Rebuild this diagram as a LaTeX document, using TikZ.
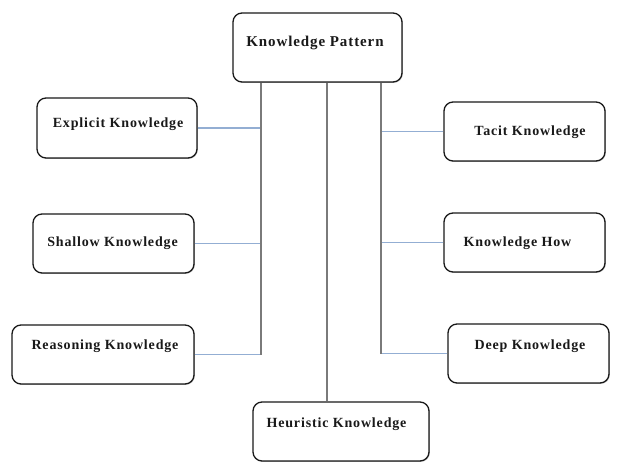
\documentclass[tikz,border=0pt]{standalone}
\usepackage{fontspec}
\setmainfont{Liberation Serif}
\newfontfamily\labfont[LetterSpace=6]{Liberation Serif}
\usetikzlibrary{shadows}
\definecolor{hline}{HTML}{93AED3}
\definecolor{vline}{HTML}{7A7A7A}
\tikzset{
  box/.style={draw=black!90, line width=1.3pt, rounded corners=9pt, fill=white,
    inner sep=0pt, drop shadow={shadow xshift=0.8pt, shadow yshift=-0.8pt, opacity=0.45, fill=black!60}},
  lab/.style={font=\labfont\bfseries\fontsize{14}{16}\selectfont, inner sep=0pt, text=black!90},
  vl/.style={draw=vline, line width=1.4pt},
  hl/.style={draw=hline, line width=1.5pt},
}
\begin{document}
\begin{tikzpicture}[x=1pt,y=-1pt]
\useasboundingbox (0,0) rectangle (630,476);
% boxes
\node[box, minimum width=169pt, minimum height=69pt] (kp) at (317.5,47.5) {};
\node[box, minimum width=160pt, minimum height=60pt] (ek) at (117,128) {};
\node[box, minimum width=161pt, minimum height=59pt] (sk) at (113.5,243.5) {};
\node[box, minimum width=182pt, minimum height=59pt] (rk) at (103,354.5) {};
\node[box, minimum width=176pt, minimum height=59pt] (hk) at (341,431.5) {};
\node[box, minimum width=161pt, minimum height=59pt] (tk) at (524.5,131.5) {};
\node[box, minimum width=161pt, minimum height=59pt] (kh) at (524.5,242.5) {};
\node[box, minimum width=161pt, minimum height=59pt] (dk) at (528.5,353.5) {};
% labels
\node[lab, font=\labfont\bfseries\fontsize{15}{17}\selectfont] (tkp) at (315,43) {Knowledge Pattern};
\node[lab] (tek) at (118,124) {Explicit Knowledge};
\node[lab] (tsk) at (112.5,243) {Shallow Knowledge};
\node[lab] (trk) at (105,346) {Reasoning Knowledge};
\node[lab] (thk) at (336.5,424) {Heuristic Knowledge};
\node[lab] (ttk) at (530,132) {Tacit Knowledge};
\node[lab] (tkh) at (517.5,243) {Knowledge How};
\node[lab] (tdk) at (530,346) {Deep Knowledge};
% junction coordinates
\coordinate (xl) at (261,0);
\coordinate (xm) at (327,0);
\coordinate (xr) at (381,0);
% horizontal connectors
\draw[hl] (ek.east) -- (ek.east -| xl);
\draw[hl] (sk.east) -- (sk.east -| xl);
\draw[hl] (rk.east) -- (rk.east -| xl);
\draw[hl] (tk.west) -- (tk.west -| xr);
\draw[hl] (kh.west) -- (kh.west -| xr);
\draw[hl] (dk.west) -- (dk.west -| xr);
% vertical connectors
\draw[vl] (kp.south -| xl) -- (rk.east -| xl);
\draw[vl] (kp.south -| xm) -- (hk.north -| xm);
\draw[vl] (kp.south -| xr) -- (dk.west -| xr);
\end{tikzpicture}
\end{document}
